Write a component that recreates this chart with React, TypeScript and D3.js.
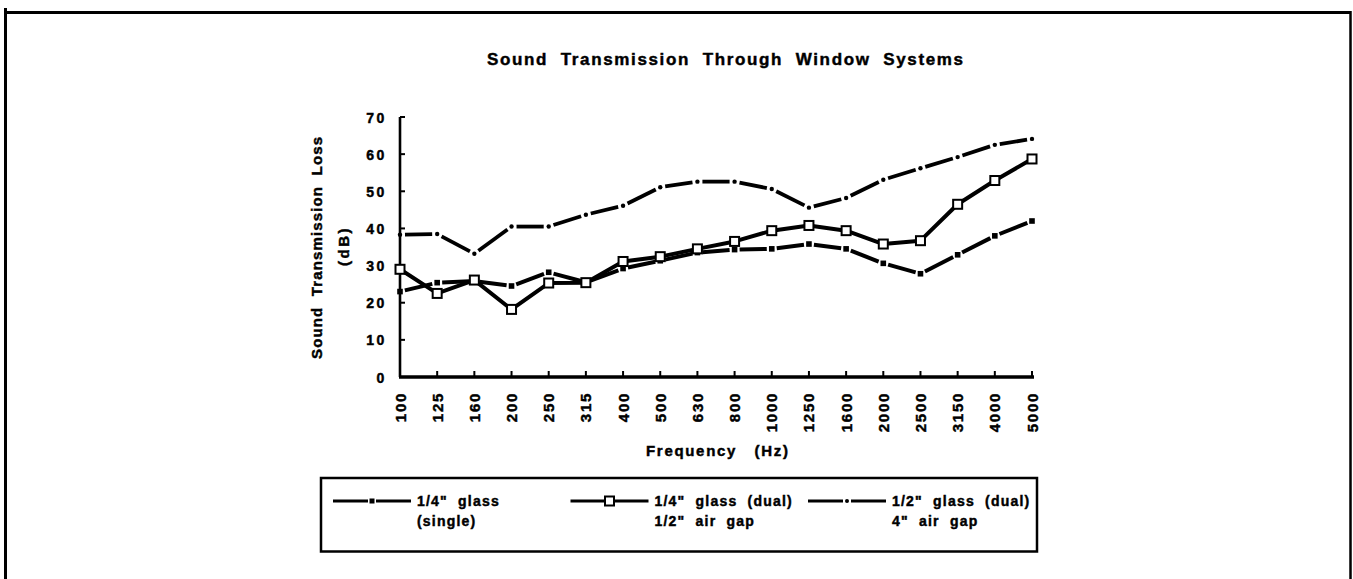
import React from "react";
import * as d3 from "d3";

const frequencies = ["100","125","160","200","250","315","400","500","630","800","1000","1250","1600","2000","2500","3150","4000","5000"];
const singleGlass = [23, 25.4, 25.8, 24.5, 28.2, 25.5, 29.2, 31.3, 33.5, 34.3, 34.5, 35.8, 34.5, 30.6, 27.8, 32.9, 38, 42];
const dualQuarterGlass = [29, 22.5, 26.1, 18.2, 25.3, 25.4, 31.1, 32.4, 34.5, 36.5, 39.4, 40.8, 39.4, 35.8, 36.7, 46.5, 52.9, 58.7];
const dualHalfGlass = [38.3, 38.5, 33.2, 40.5, 40.5, 43.7, 46.1, 51.1, 52.6, 52.6, 50.6, 45.6, 48.2, 53.1, 56.2, 59.2, 62.5, 64.1];
const legendLine1 = ["1/4\"  glass", "1/4\"  glass  (dual)", "1/2\"  glass  (dual)"];
const legendLine2 = ["(single)", "1/2\"  air  gap", "4\"  air  gap"];
const titleText = "Sound  Transmission  Through  Window  Systems";
const yTitle1 = "Sound  Transmission  Loss";
const yTitle2 = "(dB)";
const xTitle = "Frequency   (Hz)";

const FONT = "'Liberation Sans', Arial, Helvetica, sans-serif";

function trimmedSegments(pts: [number, number][], gap: number) {
  const segs: { x1: number; y1: number; x2: number; y2: number }[] = [];
  for (let i = 0; i < pts.length - 1; i++) {
    const [ax, ay] = pts[i];
    const [bx, by] = pts[i + 1];
    const len = Math.hypot(bx - ax, by - ay);
    const ux = (bx - ax) / len, uy = (by - ay) / len;
    segs.push({ x1: ax + ux * gap, y1: ay + uy * gap, x2: bx - ux * gap, y2: by - uy * gap });
  }
  return segs;
}

const heavy = { stroke: "#000", strokeWidth: 0.45 };

export default function App() {
  const x = d3.scalePoint<string>().domain(frequencies).range([400, 1032]);
  const y = d3.scaleLinear().domain([0, 70]).range([377, 117]);
  const yTicks = y.ticks(7);

  const ptsSingle: [number, number][] = frequencies.map((f, i) => [x(f)!, y(singleGlass[i])]);
  const ptsDualQ: [number, number][] = frequencies.map((f, i) => [x(f)!, y(dualQuarterGlass[i])]);
  const ptsDualH: [number, number][] = frequencies.map((f, i) => [x(f)!, y(dualHalfGlass[i])]);
  const line = d3.line<[number, number]>();

  const legendX0 = 333;
  const legendStep = 237.5;
  const legendLineLen = 78;

  return (
    <svg width={1353} height={579} style={{ position: "absolute", left: 0, top: 0, background: "#fff" }} fontFamily={FONT}>
      <rect x={0} y={0} width={1353} height={579} fill="#fff" />
      {/* frame */}
      <line x1={4} y1={12.5} x2={1351} y2={12.5} stroke="#000" strokeWidth={3} />
      <line x1={5.5} y1={8} x2={5.5} y2={579} stroke="#000" strokeWidth={3} />
      <line x1={1350.5} y1={11} x2={1350.5} y2={579} stroke="#000" strokeWidth={2.5} />

      {/* title */}
      <text x={487} y={65} fontSize={17} fontWeight="bold" textLength={476} lengthAdjust="spacing" style={{ whiteSpace: "pre" }} {...heavy}>{titleText}</text>

      {/* y axis title */}
      <text transform="translate(322,248) rotate(-90)" textAnchor="middle" fontSize={15} fontWeight="bold" textLength={222} lengthAdjust="spacing" style={{ whiteSpace: "pre" }} {...heavy}>{yTitle1}</text>
      <text transform="translate(349,246) rotate(-90)" textAnchor="middle" fontSize={15} fontWeight="bold" letterSpacing={2.5} {...heavy}>{yTitle2}</text>

      {/* y axis */}
      <line x1={400} y1={y(70)} x2={400} y2={y(0)} stroke="#000" strokeWidth={2.6} />
      {yTicks.map((t) => (
        <g key={t}>
          <line x1={400} x2={405} y1={y(t)} y2={y(t)} stroke="#000" strokeWidth={2} />
          <text x={387} y={y(t) + 5.5} textAnchor="end" fontSize={14} fontWeight="bold" letterSpacing={2.6} {...heavy}>{t}</text>
        </g>
      ))}

      {/* x axis */}
      <line x1={399} y1={y(0)} x2={1034} y2={y(0)} stroke="#000" strokeWidth={3.5} />
      {frequencies.map((f) => (
        <g key={f}>
          <line x1={x(f)!} x2={x(f)!} y1={y(0)} y2={y(0) - 6} stroke="#000" strokeWidth={2} />
          <text transform={`translate(${x(f)! + 5.5},${392}) rotate(-90)`} textAnchor="end" fontSize={15} fontWeight="bold" letterSpacing={1.7} {...heavy}>{f}</text>
        </g>
      ))}
      <text x={646} y={456} fontSize={15} fontWeight="bold" textLength={142} lengthAdjust="spacing" style={{ whiteSpace: "pre" }} {...heavy}>{xTitle}</text>

      {/* series: 1/2" glass dual (dash-dot) */}
      {trimmedSegments(ptsDualH, 5).map((s, i) => (
        <line key={"h" + i} {...s} stroke="#000" strokeWidth={3.8} />
      ))}
      {ptsDualH.map((p, i) => (
        <circle key={"hc" + i} cx={p[0]} cy={p[1]} r={2.2} fill="#000" />
      ))}

      {/* series: 1/4" single */}
      {trimmedSegments(ptsSingle, 5).map((s, i) => (
        <line key={"s" + i} {...s} stroke="#000" strokeWidth={4} />
      ))}
      {ptsSingle.map((p, i) => (
        <rect key={"sr" + i} x={p[0] - 2.8} y={p[1] - 2.8} width={5.6} height={5.6} fill="#000" />
      ))}

      {/* series: 1/4" dual */}
      <path d={line(ptsDualQ) || ""} fill="none" stroke="#000" strokeWidth={4} strokeLinejoin="round" />
      {ptsDualQ.map((p, i) => (
        <rect key={"dr" + i} x={p[0] - 4.5} y={p[1] - 4.5} width={9} height={9} fill="#fff" stroke="#000" strokeWidth={2} />
      ))}

      {/* legend */}
      <rect x={321} y={478} width={716} height={73.5} fill="none" stroke="#000" strokeWidth={2.5} />
      {legendLine1.map((lbl, i) => {
        const lx = legendX0 + i * legendStep;
        const mx = lx + legendLineLen / 2;
        const ly = 501;
        return (
          <g key={"lg" + i}>
            {i === 1 ? (
              <>
                <line x1={lx} x2={lx + legendLineLen} y1={ly} y2={ly} stroke="#000" strokeWidth={3} />
                <rect x={mx - 4.5} y={ly - 4.5} width={9} height={9} fill="#fff" stroke="#000" strokeWidth={2} />
              </>
            ) : (
              <>
                <line x1={lx} x2={mx - 4} y1={ly} y2={ly} stroke="#000" strokeWidth={3} />
                <line x1={mx + 4} x2={lx + legendLineLen} y1={ly} y2={ly} stroke="#000" strokeWidth={3} />
                {i === 0 ? (
                  <rect x={mx - 2.5} y={ly - 2.5} width={5} height={5} fill="#000" />
                ) : (
                  <circle cx={mx} cy={ly} r={2} fill="#000" />
                )}
              </>
            )}
            <text x={lx + 84} y={506} fontSize={14} fontWeight="bold" letterSpacing={1.2} style={{ whiteSpace: "pre" }} {...heavy}>{lbl}</text>
            <text x={lx + 84} y={526} fontSize={14} fontWeight="bold" letterSpacing={1.2} style={{ whiteSpace: "pre" }} {...heavy}>{legendLine2[i]}</text>
          </g>
        );
      })}
    </svg>
  );
}
